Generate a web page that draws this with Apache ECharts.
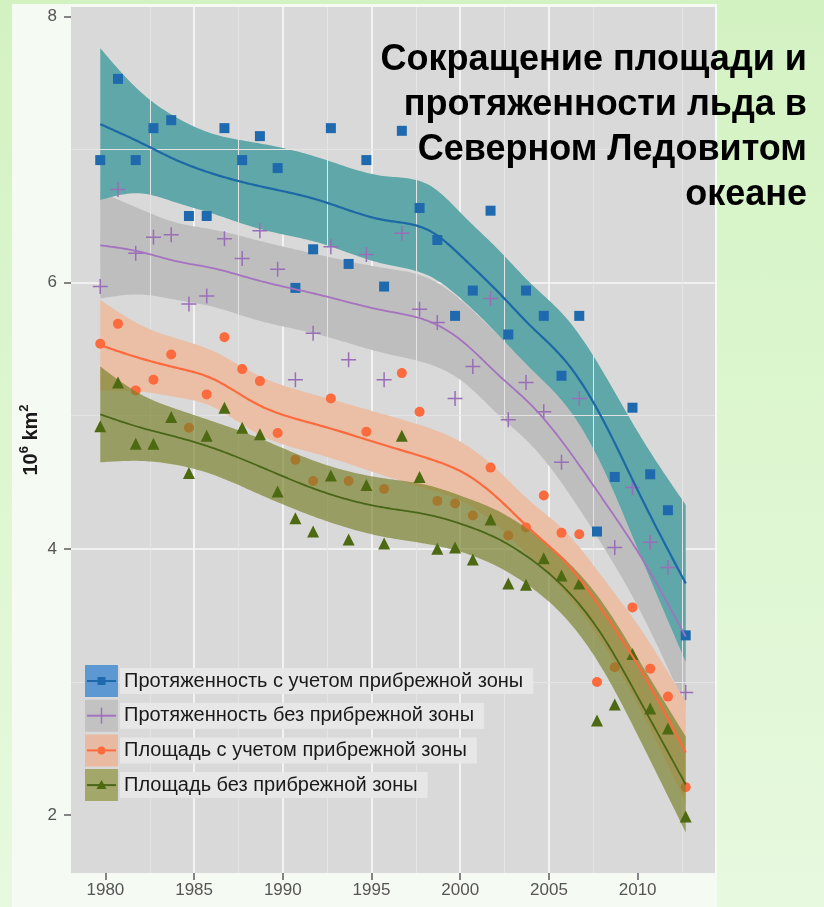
<!DOCTYPE html>
<html>
<head>
<meta charset="utf-8">
<script src="https://cdn.jsdelivr.net/npm/echarts@6/dist/echarts.min.js"></script>
<style>
  html, body { margin: 0; padding: 0; }
  body {
    width: 824px; height: 907px; overflow: hidden;
    background: linear-gradient(180deg, #d3f2c2 0%, #ddf6d0 50%, #e7f9df 100%);
  }
  #chart { width: 824px; height: 907px; }
</style>
</head>
<body>
<div id="chart"></div>
<script>
// Arctic September sea-ice, million km², 1979–2012
const years = [1979, 1980, 1981, 1982, 1983, 1984, 1985, 1986, 1987, 1988,
               1989, 1990, 1991, 1992, 1993, 1994, 1995, 1996, 1997, 1998,
               1999, 2000, 2001, 2002, 2003, 2004, 2005, 2006, 2007, 2008,
               2009, 2010, 2011, 2012];

const extentCoastal = [6.92, 7.53, 6.92, 7.16, 7.22, 6.50, 6.50, 7.16, 6.92, 7.10,
                       6.86, 5.96, 6.25, 7.16, 6.14, 6.92, 5.97, 7.14, 6.56, 6.32,
                       5.75, 5.94, 6.54, 5.61, 5.94, 5.75, 5.30, 5.75, 4.13, 4.54,
                       5.06, 4.56, 4.29, 3.35];
const extentOpen = [5.97, 6.70, 6.22, 6.34, 6.36, 5.84, 5.90, 6.33, 6.18, 6.39,
                    6.10, 5.27, 5.62, 6.27, 5.42, 6.21, 5.27, 6.37, 5.80, 5.70,
                    5.13, 5.37, 5.88, 4.97, 5.25, 5.03, 4.65, 5.13, 3.62, 4.01,
                    4.46, 4.05, 3.86, 2.92];
const areaCoastal = [5.54, 5.69, 5.19, 5.27, 5.46, 4.91, 5.16, 5.59, 5.35, 5.26,
                     4.87, 4.67, 4.51, 5.13, 4.51, 4.88, 4.45, 5.32, 5.03, 4.36,
                     4.34, 4.25, 4.61, 4.10, 4.16, 4.40, 4.12, 4.11, 3.00, 3.11,
                     3.56, 3.10, 2.89, 2.21];
const areaOpen = [4.92, 5.25, 4.79, 4.79, 4.99, 4.57, 4.85, 5.06, 4.91, 4.86,
                  4.43, 4.23, 4.13, 4.55, 4.07, 4.48, 4.04, 4.85, 4.54, 4.00,
                  4.01, 3.92, 4.22, 3.74, 3.73, 3.93, 3.80, 3.74, 2.71, 2.83,
                  3.21, 2.80, 2.65, 1.99];

// Smoothed trend (loess) and its confidence half-width
const fitYears = [1979.71, 1982, 1984, 1986, 1988.5, 1992, 1995.7, 1998.4,
                  2000.2, 2002.2, 2004, 2006, 2008, 2010, 2012.71];
const extentCoastalFit = [7.19, 7.05, 6.92, 6.82, 6.73, 6.62, 6.47, 6.38, 6.18, 5.92, 5.67, 5.40, 4.98, 4.44, 3.74];
const extentCoastalCi  = [0.57, 0.38, 0.32, 0.30, 0.32, 0.32, 0.33, 0.34, 0.32, 0.32, 0.32, 0.33, 0.36, 0.44, 0.59];
const extentOpenFit    = [6.28, 6.23, 6.16, 6.11, 6.02, 5.91, 5.79, 5.70, 5.55, 5.30, 5.08, 4.76, 4.38, 3.98, 3.34];
const extentOpenCi     = [0.40, 0.32, 0.29, 0.29, 0.30, 0.30, 0.32, 0.32, 0.30, 0.30, 0.30, 0.32, 0.35, 0.41, 0.53];
const areaCoastalFit   = [5.53, 5.43, 5.36, 5.28, 5.09, 4.93, 4.78, 4.67, 4.57, 4.37, 4.14, 3.89, 3.54, 3.13, 2.47];
const areaCoastalCi    = [0.34, 0.25, 0.22, 0.21, 0.22, 0.22, 0.23, 0.23, 0.22, 0.21, 0.21, 0.23, 0.25, 0.30, 0.38];
const areaOpenFit      = [5.01, 4.91, 4.84, 4.76, 4.63, 4.44, 4.31, 4.25, 4.18, 4.07, 3.92, 3.69, 3.35, 2.89, 2.23];
const areaOpenCi       = [0.36, 0.25, 0.21, 0.20, 0.21, 0.21, 0.22, 0.22, 0.21, 0.21, 0.21, 0.22, 0.25, 0.29, 0.36];

const seriesNames = [
  'Протяженность с учетом прибрежной зоны',
  'Протяженность без прибрежной зоны',
  'Площадь с учетом прибрежной зоны',
  'Площадь без прибрежной зоны'
];
const xTickLabels = [1980, 1985, 1990, 1995, 2000, 2005, 2010];
const yTickLabels = [2, 4, 6, 8];
const xMinorLines = [1982.5, 1987.5, 1992.5, 1997.5, 2002.5, 2007.5, 2012.5];
const yMinorLines = [3, 5, 7];
const titleText = 'Сокращение площади и\nпротяженности льда в\nСеверном Ледовитом\nокеане';
const yAxisTitle = '{b|10}{s|6}{b| km}{s|2}';

// ---- styling ----
const FONT = '"Liberation Sans", Arial, sans-serif';
const SEPT = 8.5 / 12;                 // mid-September as a fraction of the year
const PLUS = 'path://M4.5,0H5.5V4.5H10V5.5H5.5V10H4.5V5.5H0V4.5H4.5Z';

const groups = [
  { name: seriesNames[0], values: extentCoastal, fit: extentCoastalFit, ci: extentCoastalCi,
    point: '#1f6aae', line: '#1d68a6', lineW: 2.2, band: '#5fa7a8', key: '#5d98d2',
    symbol: 'rect', size: 10, zBand: 3, zPts: 5 },
  { name: seriesNames[1], values: extentOpen, fit: extentOpenFit, ci: extentOpenCi,
    point: '#9a6db8', line: '#a472bf', lineW: 1.8, band: '#bebebe', key: '#c2c2c2',
    symbol: PLUS, size: 15, zBand: 2, zPts: 5 },
  { name: seriesNames[2], values: areaCoastal, fit: areaCoastalFit, ci: areaCoastalCi,
    point: '#fb6b3d', line: '#fc6a3e', lineW: 2.2, band: '#ebbea6', key: '#e9baa2',
    symbol: 'circle', size: 10, zBand: 6, zPts: 7 },
  { name: seriesNames[3], values: areaOpen, fit: areaOpenFit, ci: areaOpenCi,
    point: '#4d6a12', line: '#4a6618', lineW: 1.8, band: 'rgba(118,128,38,0.66)', key: '#a3a76a',
    symbol: 'triangle', size: 12, zBand: 8, zPts: 9 }
];

// natural cubic spline through the trend knots, used to draw smooth curves
function naturalSpline(x, y) {
  const n = x.length, h = [], al = [], l = [1], mu = [0], z = [0];
  const b = [], c = new Array(n).fill(0), d = [];
  for (let i = 0; i < n - 1; i++) h[i] = x[i + 1] - x[i];
  for (let i = 1; i < n - 1; i++) al[i] = 3 / h[i] * (y[i + 1] - y[i]) - 3 / h[i - 1] * (y[i] - y[i - 1]);
  for (let i = 1; i < n - 1; i++) {
    l[i] = 2 * (x[i + 1] - x[i - 1]) - h[i - 1] * mu[i - 1];
    mu[i] = h[i] / l[i];
    z[i] = (al[i] - h[i - 1] * z[i - 1]) / l[i];
  }
  for (let j = n - 2; j >= 0; j--) {
    c[j] = z[j] - mu[j] * c[j + 1];
    b[j] = (y[j + 1] - y[j]) / h[j] - h[j] * (c[j + 1] + 2 * c[j]) / 3;
    d[j] = (c[j + 1] - c[j]) / (3 * h[j]);
  }
  return t => {
    let j = 0;
    while (j < n - 2 && t > x[j + 1]) j++;
    const dx = t - x[j];
    return y[j] + b[j] * dx + c[j] * dx * dx + d[j] * dx * dx * dx;
  };
}
function curvePixels(api, xArr, yArr) {
  const f = naturalSpline(xArr, yArr);
  const x0 = xArr[0], x1 = xArr[xArr.length - 1], steps = 240, pts = [];
  for (let k = 0; k <= steps; k++) {
    const t = x0 + (x1 - x0) * k / steps;
    pts.push(api.coord([t, f(t)]));
  }
  return pts;
}

const xs = years.map(y => y + SEPT);
const series = [];

// minor grid lines
series.push({
  type: 'line', data: [], z: 1, silent: true,
  markLine: {
    silent: true, symbol: 'none', label: { show: false },
    lineStyle: { color: '#e4e4e4', width: 1, type: 'solid' },
    animation: false,
    data: xMinorLines.map(v => ({ xAxis: v })).concat(yMinorLines.map(v => ({ yAxis: v })))
  }
});

groups.forEach(g => {
  const lower = g.fit.map((v, i) => v - g.ci[i]);
  const upper = g.fit.map((v, i) => v + g.ci[i]);
  // confidence ribbon
  series.push({
    type: 'custom', z: g.zBand, silent: true, clip: true,
    data: fitYears.map((x, i) => [x, lower[i], upper[i]]),
    encode: { x: 0, y: [1, 2] },
    renderItem: (params, api) => {
      if (params.dataIndex !== 0) return null;
      const top = curvePixels(api, fitYears, upper);
      const bot = curvePixels(api, fitYears, lower).reverse();
      return { type: 'polygon', shape: { points: top.concat(bot) }, style: { fill: g.band } };
    }
  });
  // observations
  series.push({
    name: g.name, type: 'scatter', symbol: g.symbol, symbolSize: g.size, z: g.zPts,
    itemStyle: { color: g.point, opacity: 1 },
    data: xs.map((x, i) => [x, g.values[i]])
  });
});

// trend lines on top
groups.forEach(g => {
  series.push({
    type: 'custom', z: 12, silent: true, clip: true,
    data: fitYears.map((x, i) => [x, g.fit[i]]),
    encode: { x: 0, y: 1 },
    renderItem: (params, api) => {
      if (params.dataIndex !== 0) return null;
      return { type: 'polyline', shape: { points: curvePixels(api, fitYears, g.fit) },
               style: { stroke: g.line, lineWidth: g.lineW, fill: null } };
    }
  });
});

// ---- legend drawn as composite keys (ribbon + line + marker) ----
const LZ = 50;
const legendEls = [];
groups.forEach((g, i) => {
  const top = 665 + i * 34.7, h = 32, cx = 101.5, cy = top + h / 2;
  legendEls.push({ type: 'rect', z: LZ, shape: { x: 85, y: top, width: 33, height: h }, style: { fill: g.key } });
  legendEls.push({ type: 'line', z: LZ + 1, shape: { x1: 87, y1: cy, x2: 116, y2: cy }, style: { stroke: g.line, lineWidth: 2 } });
  if (i === 0) legendEls.push({ type: 'rect', z: LZ + 2, shape: { x: cx - 4, y: cy - 4, width: 8, height: 8 }, style: { fill: g.point } });
  if (i === 1) legendEls.push({ type: 'line', z: LZ + 2, shape: { x1: cx, y1: cy - 8, x2: cx, y2: cy + 8 }, style: { stroke: g.point, lineWidth: 1.4 } });
  if (i === 2) legendEls.push({ type: 'circle', z: LZ + 2, shape: { cx: cx, cy: cy, r: 4 }, style: { fill: g.point } });
  if (i === 3) legendEls.push({ type: 'polygon', z: LZ + 2, shape: { points: [[cx, cy - 5], [cx + 5, cy + 4], [cx - 5, cy + 4]] }, style: { fill: g.point } });
  legendEls.push({
    type: 'text', z: LZ, x: 120, y: cy,
    style: { text: g.name, font: '20px ' + FONT, fill: '#1a1a1a', verticalAlign: 'middle',
             backgroundColor: '#e7e7e7', padding: [3, 10, 3, 4] }
  });
});

const chart = echarts.init(document.getElementById('chart'), null, { renderer: 'canvas' });
chart.setOption({
  animation: false,
  backgroundColor: 'transparent',
  grid: { left: 71, top: 7, width: 644, height: 866, show: true, backgroundColor: '#d9d9d9', borderWidth: 0 },
  xAxis: {
    type: 'value', min: 1978.06, max: 2014.36, splitNumber: 7,
    axisLine: { show: false },
    axisTick: { show: true, length: 7, customValues: xTickLabels, lineStyle: { color: '#666', width: 1.6 } },
    axisLabel: { customValues: xTickLabels, formatter: v => String(v), color: '#555', fontSize: 17,
                 fontFamily: FONT, margin: 9 },
    splitLine: { show: true, showMinLine: false, showMaxLine: false, lineStyle: { color: '#f7f7f7', width: 1.7 } }
  },
  yAxis: {
    type: 'value', min: 1.565, max: 8.07, splitNumber: 3,
    axisLine: { show: false },
    axisTick: { show: true, length: 7, customValues: yTickLabels, lineStyle: { color: '#666', width: 1.6 } },
    axisLabel: { customValues: yTickLabels, formatter: v => String(v), color: '#555', fontSize: 17,
                 fontFamily: FONT, margin: 14 },
    splitLine: { show: true, showMinLine: false, showMaxLine: false, lineStyle: { color: '#f7f7f7', width: 1.7 } }
  },
  graphic: [
    { type: 'rect', z: -10, silent: true, shape: { x: 12, y: 4, width: 705, height: 903 }, style: { fill: '#f5faf2' } },
    { type: 'group', z: LZ, silent: true, children: legendEls },
    // vertical axis title
    { type: 'text', z: 60, x: 31, y: 440, rotation: Math.PI / 2, silent: true,
      style: {
        text: yAxisTitle, align: 'center', verticalAlign: 'middle',
        rich: {
          b: { fontSize: 20, fontWeight: 'bold', fill: '#1a1a1a', fontFamily: FONT, lineHeight: 26 },
          s: { fontSize: 13, fontWeight: 'bold', fill: '#1a1a1a', fontFamily: FONT, verticalAlign: 'top', lineHeight: 26 }
        }
      } },
    { type: 'text', z: 60, x: 807, y: 38, silent: true,
      style: { text: titleText, font: 'bold 36px ' + FONT, fill: '#000', align: 'right', lineHeight: 45 } }
  ],
  series: series
});
</script>
</body>
</html>
